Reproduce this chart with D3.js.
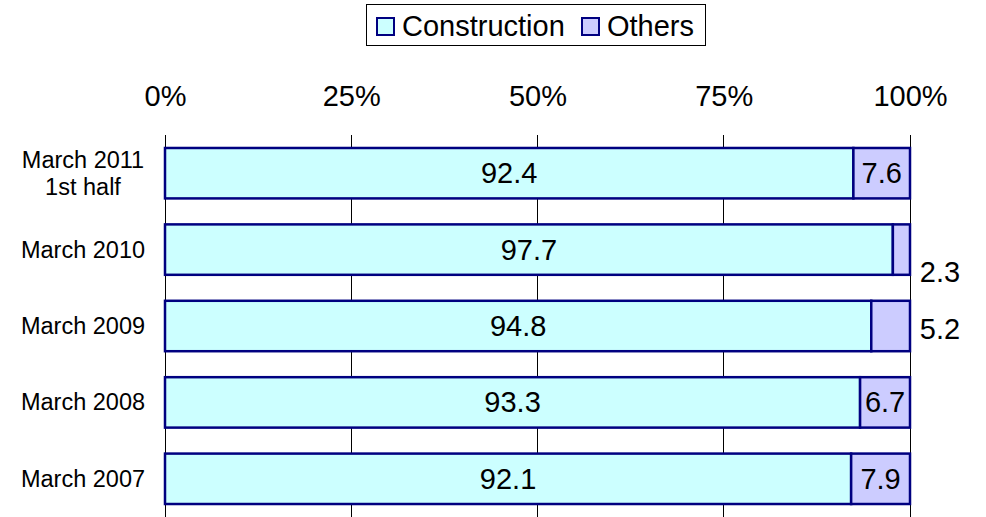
<!DOCTYPE html>
<html><head><meta charset="utf-8">
<script src="https://cdn.jsdelivr.net/npm/d3@7"></script>
<style>body{margin:0;background:#fff}svg{display:block;font-family:"Liberation Sans",Arial,sans-serif}</style>
</head><body><svg id="c" width="986" height="517"></svg>
<script>
const categories = [["March 2011","1st half"],["March 2010"],["March 2009"],["March 2008"],["March 2007"]];
const construction = [92.4, 97.7, 94.8, 93.3, 92.1];
const others = [7.6, 2.3, 5.2, 6.7, 7.9];
const seriesNames = ["Construction", "Others"];
const seriesColors = ["#ccffff", "#ccccff"];
const tickValues = [0, 25, 50, 75, 100];
const othersOutside = [false, true, true, false, false];
const outsideDy = [0, 22, 3, 0, 0];

const svg = d3.select("#c");
const x = d3.scaleLinear().domain([0, 100]).range([165, 910]);
const y = d3.scaleBand().domain(d3.range(categories.length)).range([135, 517]).paddingInner(0.34).paddingOuter(0.17);

// gridlines
svg.append("g").selectAll("line").data(tickValues).join("line")
  .attr("x1", d => x(d)).attr("x2", d => x(d)).attr("y1", 135).attr("y2", 517)
  .attr("stroke", "#000").attr("stroke-width", 1).attr("shape-rendering", "crispEdges");

// top axis labels
const axis = d3.axisTop(x).tickValues(tickValues).tickFormat(d => d + "%").tickSize(0).tickPadding(0);
const ag = svg.append("g").attr("transform", "translate(0,106)").call(axis);
ag.select(".domain").remove();
ag.selectAll("text").attr("font-size", 29).attr("fill", "#000").attr("font-family", "Liberation Sans, Arial, sans-serif").attr("dy", 0);

// bars
const rows = categories.map((c, i) => ({i, c, a: construction[i], b: others[i]}));
const bw = y.bandwidth();
svg.append("g").selectAll("rect").data(rows).join("rect")
  .attr("x", d => x(0)).attr("y", d => y(d.i)).attr("width", d => x(d.a) - x(0)).attr("height", bw)
  .attr("fill", seriesColors[0]).attr("stroke", "#000080").attr("stroke-width", 2.5);
svg.append("g").selectAll("rect").data(rows).join("rect")
  .attr("x", d => x(d.a)).attr("y", d => y(d.i)).attr("width", d => x(d.a + d.b) - x(d.a)).attr("height", bw)
  .attr("fill", seriesColors[1]).attr("stroke", "#000080").attr("stroke-width", 2.5);

// value labels
svg.append("g").selectAll("text").data(rows).join("text")
  .attr("x", d => (x(0) + x(d.a)) / 2).attr("y", d => y(d.i) + bw / 2 + 10)
  .attr("text-anchor", "middle").attr("font-size", 29).text(d => d.a.toFixed(1));
svg.append("g").selectAll("text").data(rows).join("text")
  .attr("x", d => othersOutside[d.i] ? x(100) + 30 : (x(d.a) + x(d.a + d.b)) / 2)
  .attr("y", d => y(d.i) + bw / 2 + 10 + (othersOutside[d.i] ? outsideDy[d.i] : 0))
  .attr("text-anchor", "middle").attr("font-size", 29).text(d => d.b.toFixed(1));

// category labels
const cl = svg.append("g").selectAll("text").data(rows).join("text")
  .attr("text-anchor", "middle").attr("font-size", 23.5)
  .attr("y", d => y(d.i) + bw / 2 + 8 - (d.c.length - 1) * 13.5);
cl.selectAll("tspan").data(d => d.c).join("tspan")
  .attr("x", 83).attr("dy", (t, j) => j === 0 ? 0 : 27).text(t => t);

// legend
const lg = svg.append("g");
lg.append("rect").attr("x", 366.5).attr("y", 4.5).attr("width", 339).attr("height", 41)
  .attr("fill", "#fff").attr("stroke", "#000").attr("stroke-width", 1);
const legX = [377, 582];
seriesNames.forEach((n, i) => {
  lg.append("rect").attr("x", legX[i]).attr("y", 18).attr("width", 17).attr("height", 17)
    .attr("fill", seriesColors[i]).attr("stroke", "#000080").attr("stroke-width", 2);
  lg.append("text").attr("x", legX[i] + 25).attr("y", 36).attr("font-size", 29).text(n);
});
</script></body></html>
